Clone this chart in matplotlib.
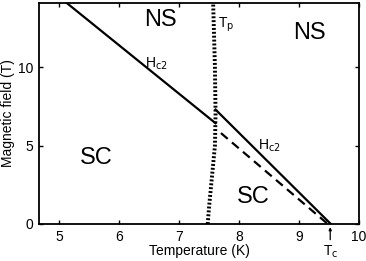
import matplotlib.pyplot as plt

plt.rcParams['font.family'] = ['Liberation Sans', 'DejaVu Sans']

# upper critical field, low-T branch (solid)
hc2_low_T = [5.10, 7.61]
hc2_low_H = [14.2, 6.43]
# upper critical field, high-T branch (solid)
hc2_high_T = [7.61, 9.53]
hc2_high_H = [7.30, 0.0]
# extrapolated branch (dashed)
hc2_dash_T = [7.70, 9.48]
hc2_dash_H = [5.80, 0.0]
# T_p line (dotted)
tp_T = [7.48, 7.50, 7.55, 7.60, 7.61, 7.60, 7.57]
tp_H = [0.0, 1.0, 3.0, 5.0, 7.0, 10.0, 14.1]

tc = 9.52

fig = plt.figure(figsize=(3.66, 2.61), dpi=100)
ax = fig.add_axes([0.1066, 0.1418, 0.8744, 0.8467])

ax.plot(hc2_low_T, hc2_low_H, color='black', lw=1.6)
ax.plot(hc2_high_T, hc2_high_H, color='black', lw=1.6)
ax.plot(hc2_dash_T, hc2_dash_H, color='black', lw=1.6, ls=(0, (4, 2.5)))
ax.plot(tp_T, tp_H, color='black', lw=2.8, ls=(0, (0.5, 0.5)))

ax.set_xlim(4.67, 10)
ax.set_ylim(0, 14.1)
ax.set_xticks([5, 6, 7, 8, 9, 10])
ax.set_yticks([0, 5, 10])
ax.tick_params(direction='in', top=True, right=True, labelsize=10, length=3, width=1, pad=4)
for s in ax.spines.values():
    s.set_linewidth(1.3)

ax.set_xlabel('Temperature (K)', fontsize=10, labelpad=0)
ax.set_ylabel('Magnetic field (T)', fontsize=10, labelpad=2)

ax.text(6.69, 13.0, 'NS', fontsize=17, ha='center', va='center')
ax.text(9.17, 12.2, 'NS', fontsize=17, ha='center', va='center')
ax.text(5.63, 4.2, 'SC', fontsize=17, ha='center', va='center')
ax.text(8.24, 1.7, 'SC', fontsize=17, ha='center', va='center')
ax.text(6.62, 10.2, r'H$_{\rm c2}$', fontsize=10, ha='center', va='center')
ax.text(8.5, 5.0, r'H$_{\rm c2}$', fontsize=10, ha='center', va='center')
ax.text(7.79, 12.7, r'T$_{\rm p}$', fontsize=10, ha='center', va='center')

ax.annotate('', xy=(tc, -0.2), xytext=(tc, -1.0), annotation_clip=False,
            arrowprops=dict(arrowstyle='-|>', color='black', lw=0.9,
                            mutation_scale=4, shrinkA=0, shrinkB=0))
ax.text(tc, -1.75, r'T$_{\rm c}$', fontsize=10, ha='center', va='center', clip_on=False)

fig.savefig('out.png', dpi=100)
